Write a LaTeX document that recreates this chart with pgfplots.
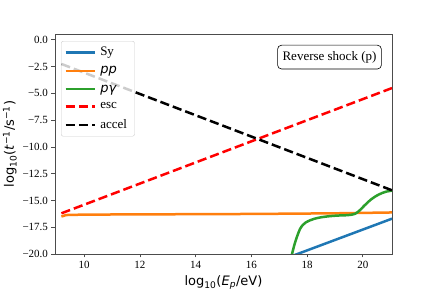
\documentclass[border=0pt]{standalone}
\usepackage{fontspec}
\setmainfont{Liberation Serif}
\newfontfamily\dejavu{DejaVu Sans}
\usepackage{pgfplots}
\pgfplotsset{compat=1.18}
\definecolor{tabblue}{HTML}{1F77B4}
\definecolor{taborange}{HTML}{FF7F0E}
\definecolor{tabgreen}{HTML}{2CA02C}
\begin{document}
\begin{tikzpicture}
\useasboundingbox (0,0) rectangle (436pt,291pt);
\begin{axis}[
  at={(55pt,37pt)}, anchor=south west,
  scale only axis, width=337pt, height=220pt,
  xmin=8.95, xmax=21.05, ymin=-20, ymax=0.55,
  axis line style={black!70, line width=0.8pt},
  xtick={10,12,14,16,18,20},
  ytick={-20,-17.5,-15,-12.5,-10,-7.5,-5,-2.5,0},
  yticklabels={−20.0,−17.5,−15.0,−12.5,−10.0,−7.5,−5.0,−2.5,0.0},
  tick align=outside, xtick pos=bottom, ytick pos=left,
  major tick length=3.5pt,
  tick style={black!70, line width=0.8pt},
  /pgf/number format/assume math mode=true,
  ticklabel style={font=\fontsize{11}{12}\selectfont},
  xlabel={\dejavu log\textsubscript{10}(\textit{E}\textsubscript{\textit{p}}/eV)},
  ylabel={\dejavu log\textsubscript{10}(\textit{t}\textsuperscript{−1}/s\textsuperscript{−1})},
  label style={font=\fontsize{13}{15}\selectfont},
  xlabel style={yshift=-0.5pt},
  ylabel style={yshift=-1pt},
  legend style={at={(rel axis cs:0.018,0.968)}, anchor=north west,
    draw=black!20, rounded corners=2pt, fill=white, fill opacity=0.8, text opacity=1,
    font=\fontsize{13}{15}\selectfont, row sep=5.3pt, inner xsep=3pt, inner ysep=4pt,
    nodes={inner xsep=4.5pt}},
  legend cell align=left,
  legend image code/.code={\draw[#1] (0pt,0pt) -- (29pt,0pt);},
  every axis plot/.append style={line width=2.5pt},
]
\addplot[tabblue] coordinates {(17.45,-20.2) (21.05,-16.7)};
\addlegendentry{Sy}
\addplot[taborange] coordinates {(9.18,-16.5) (9.35,-16.36) (10,-16.32) (12,-16.3) (16,-16.26) (19,-16.2) (21.05,-16.12)};
\addlegendentry{\dejavu\itshape pp}
\addplot[tabgreen, smooth] coordinates {
(17.40,-20.6) (17.47,-19.9) (17.55,-19.1) (17.65,-18.3) (17.75,-17.65) (17.85,-17.28)
(17.95,-17.06) (18.1,-16.86) (18.25,-16.72) (18.5,-16.57) (18.8,-16.47) (19.1,-16.41)
(19.4,-16.38) (19.6,-16.33) (19.72,-16.25) (19.85,-16.02) (19.95,-15.77) (20.05,-15.5)
(20.15,-15.25) (20.3,-14.9) (20.5,-14.55) (20.7,-14.3) (20.85,-14.17) (21.05,-14.08)};
\addlegendentry{\dejavu\itshape pγ}
\addplot[red, dash pattern=on 9.25pt off 4pt] coordinates {(9.18,-16.2) (21.05,-4.5)};
\addlegendentry{esc}
\addplot[black, dash pattern=on 9.25pt off 4pt] coordinates {(9.18,-2.25) (21.05,-14.05)};
\addlegendentry{accel}
\node[draw=black, rounded corners=4pt, line width=0.6pt, inner xsep=5pt, inner ysep=6pt,
  font=\fontsize{13}{15}\selectfont] at (rel axis cs:0.8145,0.895) {Reverse shock (p)};
\end{axis}
\end{tikzpicture}
\end{document}
